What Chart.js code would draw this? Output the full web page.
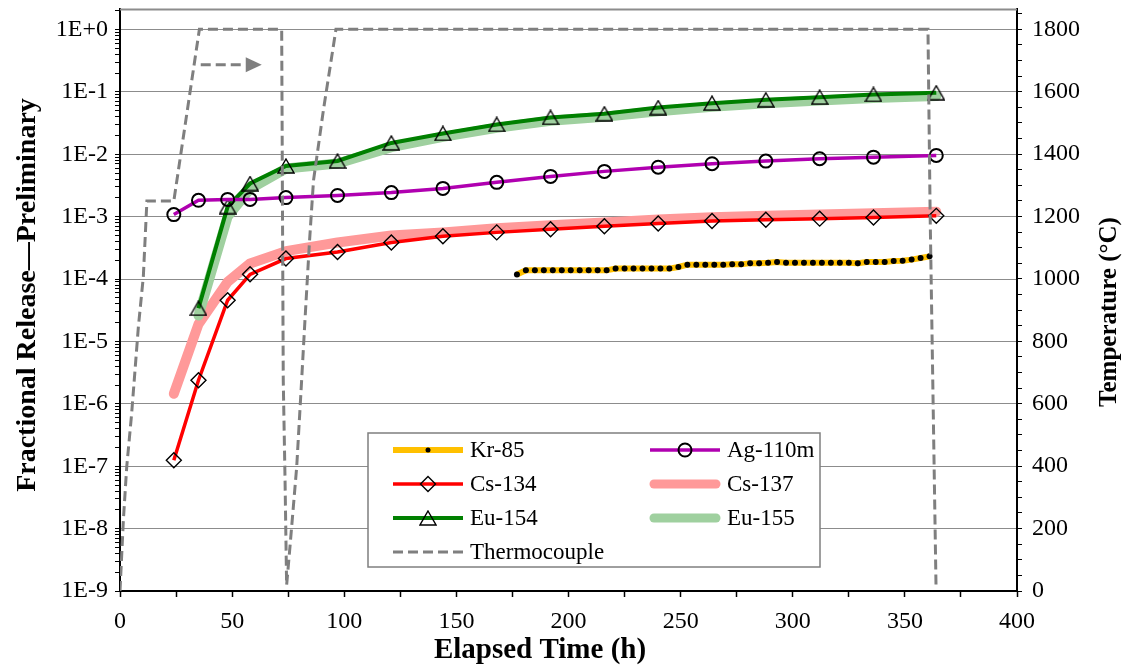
<!DOCTYPE html>
<html>
<head>
<meta charset="utf-8">
<script src="https://cdn.jsdelivr.net/npm/chart.js@4.4.1/dist/chart.umd.min.js"></script>
<style>
  html, body { margin: 0; padding: 0; background: #fff; }
  #wrap { width: 1128px; height: 665px; }
</style>
</head>
<body>
<div id="wrap"><canvas id="releaseChart" width="1128" height="665"></canvas></div>
<script>
// Sample times (h) for the gamma-counted isotopes
const sampleTimes = [24, 35, 48, 58, 74, 97, 121, 144, 168, 192, 216, 240, 264, 288, 312, 336, 364];
const euTimes = [35, 48, 58, 74, 97, 121, 144, 168, 192, 216, 240, 264, 288, 312, 336, 364];

const ag110m = [1.08e-3, 1.83e-3, 1.89e-3, 1.89e-3, 2.02e-3, 2.19e-3, 2.43e-3, 2.84e-3, 3.55e-3,
                4.42e-3, 5.32e-3, 6.2e-3, 7.06e-3, 7.78e-3, 8.5e-3, 9.0e-3, 9.6e-3];
const cs134 = [1.25e-7, 2.39e-6, 4.57e-5, 1.19e-4, 2.13e-4, 2.72e-4, 3.84e-4, 4.84e-4, 5.6e-4,
               6.26e-4, 7.0e-4, 7.8e-4, 8.5e-4, 8.9e-4, 9.3e-4, 9.7e-4, 1.03e-3];
const cs137 = [1.45e-6, 1.9e-5, 9.0e-5, 1.78e-4, 2.8e-4, 3.85e-4, 5.0e-4, 5.6e-4, 6.5e-4,
               7.3e-4, 8.1e-4, 9.0e-4, 9.8e-4, 1.03e-3, 1.08e-3, 1.13e-3, 1.2e-3];
const eu154 = [3.4e-5, 1.45e-3, 3.4e-3, 6.5e-3, 7.8e-3, 1.52e-2, 2.16e-2, 3.01e-2, 3.9e-2,
               4.47e-2, 5.6e-2, 6.6e-2, 7.48e-2, 8.24e-2, 9.1e-2, 9.7e-2];
const eu155 = [2.6e-5, 1.0e-3, 2.8e-3, 5.9e-3, 7.1e-3, 1.3e-2, 1.9e-2, 2.65e-2, 3.45e-2,
               4.0e-2, 4.9e-2, 5.8e-2, 6.6e-2, 7.3e-2, 8.0e-2, 8.6e-2];

// Kr-85 online measurements
const krTimes = [177, 181, 185, 189, 193, 197, 201, 205, 209, 213, 217, 221, 225, 229, 233, 237,
                 241, 245, 249, 253, 257, 261, 265, 269, 273, 277, 281, 285, 289, 293, 297, 301,
                 305, 309, 313, 317, 321, 325, 329, 333, 337, 341, 345, 349, 353, 357, 361];
const kr85 = [1.18e-4, 1.38e-4, 1.38e-4, 1.38e-4, 1.38e-4, 1.38e-4, 1.38e-4, 1.38e-4, 1.38e-4,
              1.38e-4, 1.38e-4, 1.47e-4, 1.47e-4, 1.47e-4, 1.47e-4, 1.47e-4, 1.47e-4, 1.47e-4,
              1.56e-4, 1.70e-4, 1.70e-4, 1.70e-4, 1.70e-4, 1.70e-4, 1.72e-4, 1.72e-4, 1.80e-4,
              1.80e-4, 1.83e-4, 1.88e-4, 1.83e-4, 1.83e-4, 1.83e-4, 1.83e-4, 1.83e-4, 1.83e-4,
              1.83e-4, 1.83e-4, 1.80e-4, 1.88e-4, 1.88e-4, 1.88e-4, 1.95e-4, 1.97e-4, 2.05e-4,
              2.17e-4, 2.31e-4];

// Furnace thermocouple (°C)
const tcTimes = [0, 1.5, 3, 5.2, 8.2, 10.4, 12, 24, 35.4, 72.1, 72.8, 73.6, 74.3, 75.8, 78.8,
                 81, 82.5, 84.5, 86.3, 90.7, 96.3, 360.3, 361.3, 363.9];
const tcTemps = [0, 227, 398, 569, 847, 1007, 1250, 1250, 1800, 1800, 676, 356, 19, 142, 398,
                 676, 870, 1120, 1316, 1541, 1800, 1800, 1190, 10];

const yTickLabels = ['1E-9', '1E-8', '1E-7', '1E-6', '1E-5', '1E-4', '1E-3', '1E-2', '1E-1', '1E+0'];
const tempTickLabels = [0, 200, 400, 600, 800, 1000, 1200, 1400, 1600, 1800];

const FONT = "'Times New Roman', 'Liberation Serif', serif";
Chart.defaults.font.family = FONT;
Chart.defaults.color = '#000';

function pts(xs, ys) {
  return xs.map((x, i) => ({ x: x, y: ys[i] }));
}

function isDecade(v) {
  const e = Math.log10(v);
  return Math.abs(e - Math.round(e)) < 1e-6;
}

function isWholeStep(v) {
  const m = v / Math.pow(10, Math.floor(Math.log10(v) + 1e-9));
  return Math.abs(m - Math.round(m)) < 1e-6;
}

// hollow triangle centred on its bounding box, like the spreadsheet marker
function triangleMarker() {
  const c = document.createElement('canvas');
  c.width = 18;
  c.height = 16;
  const g = c.getContext('2d');
  g.strokeStyle = '#000';
  g.lineWidth = 1.4;
  g.beginPath();
  g.moveTo(9, 1);
  g.lineTo(17, 15);
  g.lineTo(1, 15);
  g.closePath();
  g.stroke();
  return c;
}
const triangle = triangleMarker();
const hollow = 'rgba(0,0,0,0)';

const datasets = [
  {
    label: 'Kr-85', data: pts(krTimes, kr85), yAxisID: 'y',
    borderColor: '#ffc000', borderWidth: 6, order: 1,
    pointStyle: 'circle', pointRadius: 3, pointBackgroundColor: '#000', pointBorderColor: '#000', pointBorderWidth: 0
  },
  {
    label: 'Ag-110m', data: pts(sampleTimes, ag110m), yAxisID: 'y',
    borderColor: '#b000b0', borderWidth: 3.5, order: 2,
    pointStyle: 'circle', pointRadius: 6.5, pointBackgroundColor: hollow, pointBorderColor: '#000', pointBorderWidth: 2
  },
  {
    label: 'Cs-134', data: pts(sampleTimes, cs134), yAxisID: 'y',
    borderColor: '#ff0000', borderWidth: 3.5, order: 4,
    pointStyle: 'rectRot', pointRadius: 7.5, pointBackgroundColor: hollow, pointBorderColor: '#000', pointBorderWidth: 1.4
  },
  {
    label: 'Cs-137', data: pts(sampleTimes, cs137), yAxisID: 'y',
    borderColor: '#ff9999', borderWidth: 10, borderCapStyle: 'round', borderJoinStyle: 'round', order: 6,
    pointRadius: 0
  },
  {
    label: 'Eu-154', data: pts(euTimes, eu154), yAxisID: 'y',
    borderColor: '#008000', borderWidth: 4, order: 3,
    pointStyle: triangle, pointRadius: 8, pointBackgroundColor: hollow, pointBorderColor: '#000', pointBorderWidth: 1.4
  },
  {
    label: 'Eu-155', data: pts(euTimes, eu155), yAxisID: 'y',
    borderColor: '#9fd09f', borderWidth: 10, borderCapStyle: 'round', borderJoinStyle: 'round', order: 5,
    pointRadius: 0
  },
  {
    label: 'Thermocouple', data: pts(tcTimes, tcTemps), yAxisID: 'yT',
    borderColor: '#7f7f7f', borderWidth: 3, borderDash: [10, 5], order: 0,
    pointRadius: 0
  }
];
datasets.forEach(d => { d.fill = false; d.tension = 0; d.pointHoverRadius = d.pointRadius; });

function drawText(ctx, text, x, y, font, angle) {
  ctx.save();
  ctx.translate(x, y);
  ctx.rotate(angle);
  ctx.font = font;
  ctx.fillStyle = '#000';
  ctx.textAlign = 'center';
  ctx.textBaseline = 'middle';
  ctx.fillText(text, 0, 0);
  ctx.restore();
}

// frame, arrow, axis titles and the boxed legend
const decorPlugin = {
  id: 'decor',
  beforeDatasetsDraw(chart) {
    const { ctx, chartArea: a } = chart;
    ctx.save();
    ctx.strokeStyle = '#8c8c8c';
    ctx.lineWidth = 2;
    ctx.beginPath();
    ctx.moveTo(a.left, a.top);
    ctx.lineTo(a.right, a.top);
    ctx.stroke();
    ctx.restore();
  },
  afterDatasetsDraw(chart) {
    const { ctx, scales } = chart;
    // arrow pointing at the temperature axis
    const y = scales.yT.getPixelForValue(1687);
    const x0 = scales.x.getPixelForValue(36);
    const tip = scales.x.getPixelForValue(63.2);
    ctx.save();
    ctx.strokeStyle = '#7f7f7f';
    ctx.fillStyle = '#7f7f7f';
    ctx.lineWidth = 3;
    ctx.setLineDash([10, 5]);
    ctx.beginPath();
    ctx.moveTo(x0, y);
    ctx.lineTo(tip - 18, y);
    ctx.stroke();
    ctx.setLineDash([]);
    ctx.beginPath();
    ctx.moveTo(tip, y);
    ctx.lineTo(tip - 16, y - 7.5);
    ctx.lineTo(tip - 16, y + 7.5);
    ctx.closePath();
    ctx.fill();
    ctx.restore();
  },
  afterDraw(chart) {
    const { ctx, chartArea: a } = chart;
    drawText(ctx, 'Elapsed Time (h)', 540, 651, 'bold 29px ' + FONT, 0);
    drawText(ctx, 'Fractional Release\u2014Preliminary', 28, 295, 'bold 28px ' + FONT, -Math.PI / 2);
    drawText(ctx, 'Temperature (\u00B0C)', 1110, 312, 'bold 25px ' + FONT, -Math.PI / 2);

    // legend box
    const L = a.left + 248, T = 433, W = 452, H = 134;
    ctx.save();
    ctx.fillStyle = '#fff';
    ctx.fillRect(L, T, W, H);
    ctx.strokeStyle = '#7f7f7f';
    ctx.lineWidth = 1.5;
    ctx.strokeRect(L, T, W, H);
    ctx.font = '23px ' + FONT;
    ctx.textBaseline = 'middle';
    chart.data.datasets.forEach((ds, i) => {
      const col = i % 2, row = Math.floor(i / 2);
      const sx = L + 25 + col * 257;
      const sy = T + 17 + row * 34;
      const thick = ds.borderWidth > 6;
      ctx.save();
      ctx.strokeStyle = ds.borderColor;
      ctx.lineWidth = thick ? 9 : ds.borderWidth;
      ctx.lineCap = thick ? 'round' : 'butt';
      ctx.setLineDash(ds.borderDash || []);
      ctx.beginPath();
      ctx.moveTo(sx + (thick ? 4 : 0), sy);
      ctx.lineTo(sx + 70 - (thick ? 4 : 0), sy);
      ctx.stroke();
      ctx.restore();
      if (ds.pointRadius) {
        ctx.save();
        ctx.fillStyle = ds.pointBackgroundColor;
        ctx.strokeStyle = ds.pointBorderColor;
        ctx.lineWidth = ds.pointBorderWidth;
        Chart.helpers.drawPoint(ctx, {
          pointStyle: ds.pointStyle, radius: ds.label === 'Kr-85' ? 2.5 : ds.pointRadius,
          borderWidth: ds.pointBorderWidth, rotation: 0
        }, sx + 35, sy);
        ctx.restore();
      }
      ctx.fillStyle = '#000';
      ctx.fillText(ds.label, sx + 77, sy + 1);
    });
    ctx.restore();
  }
};

new Chart(document.getElementById('releaseChart'), {
  type: 'line',
  data: { datasets: datasets },
  plugins: [decorPlugin],
  options: {
    responsive: false,
    animation: false,
    layout: { padding: { top: 9, left: 0, right: 0, bottom: 0 } },
    plugins: { legend: { display: false }, tooltip: { enabled: false } },
    scales: {
      x: {
        type: 'linear', position: 'bottom', min: 0, max: 400,
        border: { display: true, color: '#000', width: 2 },
        grid: { drawOnChartArea: false, drawTicks: true, tickLength: 6, tickColor: '#000', tickWidth: 1.5 },
        ticks: {
          stepSize: 25, autoSkip: false, maxRotation: 0, padding: 10,
          font: { size: 24 }, color: '#000',
          callback: v => (v % 50 === 0 ? String(v) : '')
        },
        afterFit: s => { s.height = 74; s.paddingLeft = 0; s.paddingRight = 0; }
      },
      y: {
        type: 'logarithmic', position: 'left', min: 1e-9, max: 2.1,
        border: { display: true, color: '#000', width: 2 },
        grid: {
          color: c => (c.tick && isDecade(c.tick.value) ? '#8c8c8c' : 'rgba(0,0,0,0)'),
          lineWidth: 1, drawTicks: true, tickLength: 5, tickColor: '#000', tickWidth: 1
        },
        ticks: {
          autoSkip: false, padding: 7, font: { size: 24 }, color: '#000',
          callback: v => (isDecade(v) ? yTickLabels[Math.round(Math.log10(v)) + 9] : '')
        },
        afterBuildTicks: s => { s.ticks = s.ticks.filter(t => t.value <= 2.0001 && isWholeStep(t.value)); },
        afterFit: s => { s.width = 120; s.paddingTop = 0; s.paddingBottom = 0; }
      },
      yT: {
        type: 'linear', position: 'right', min: 0, max: 1864,
        border: { display: true, color: '#000', width: 2 },
        grid: { drawOnChartArea: false, drawTicks: true, tickLength: 5, tickColor: '#000', tickWidth: 1 },
        ticks: {
          autoSkip: false, padding: 10, font: { size: 24 }, color: '#000',
          callback: v => (tempTickLabels.includes(v) ? String(v) : '')
        },
        afterBuildTicks: s => {
          const list = [];
          for (let v = 0; v <= 1850; v += 50) list.push({ value: v });
          s.ticks = list;
        },
        afterFit: s => { s.width = 111; s.paddingTop = 0; s.paddingBottom = 0; }
      }
    }
  }
});
</script>
</body>
</html>
